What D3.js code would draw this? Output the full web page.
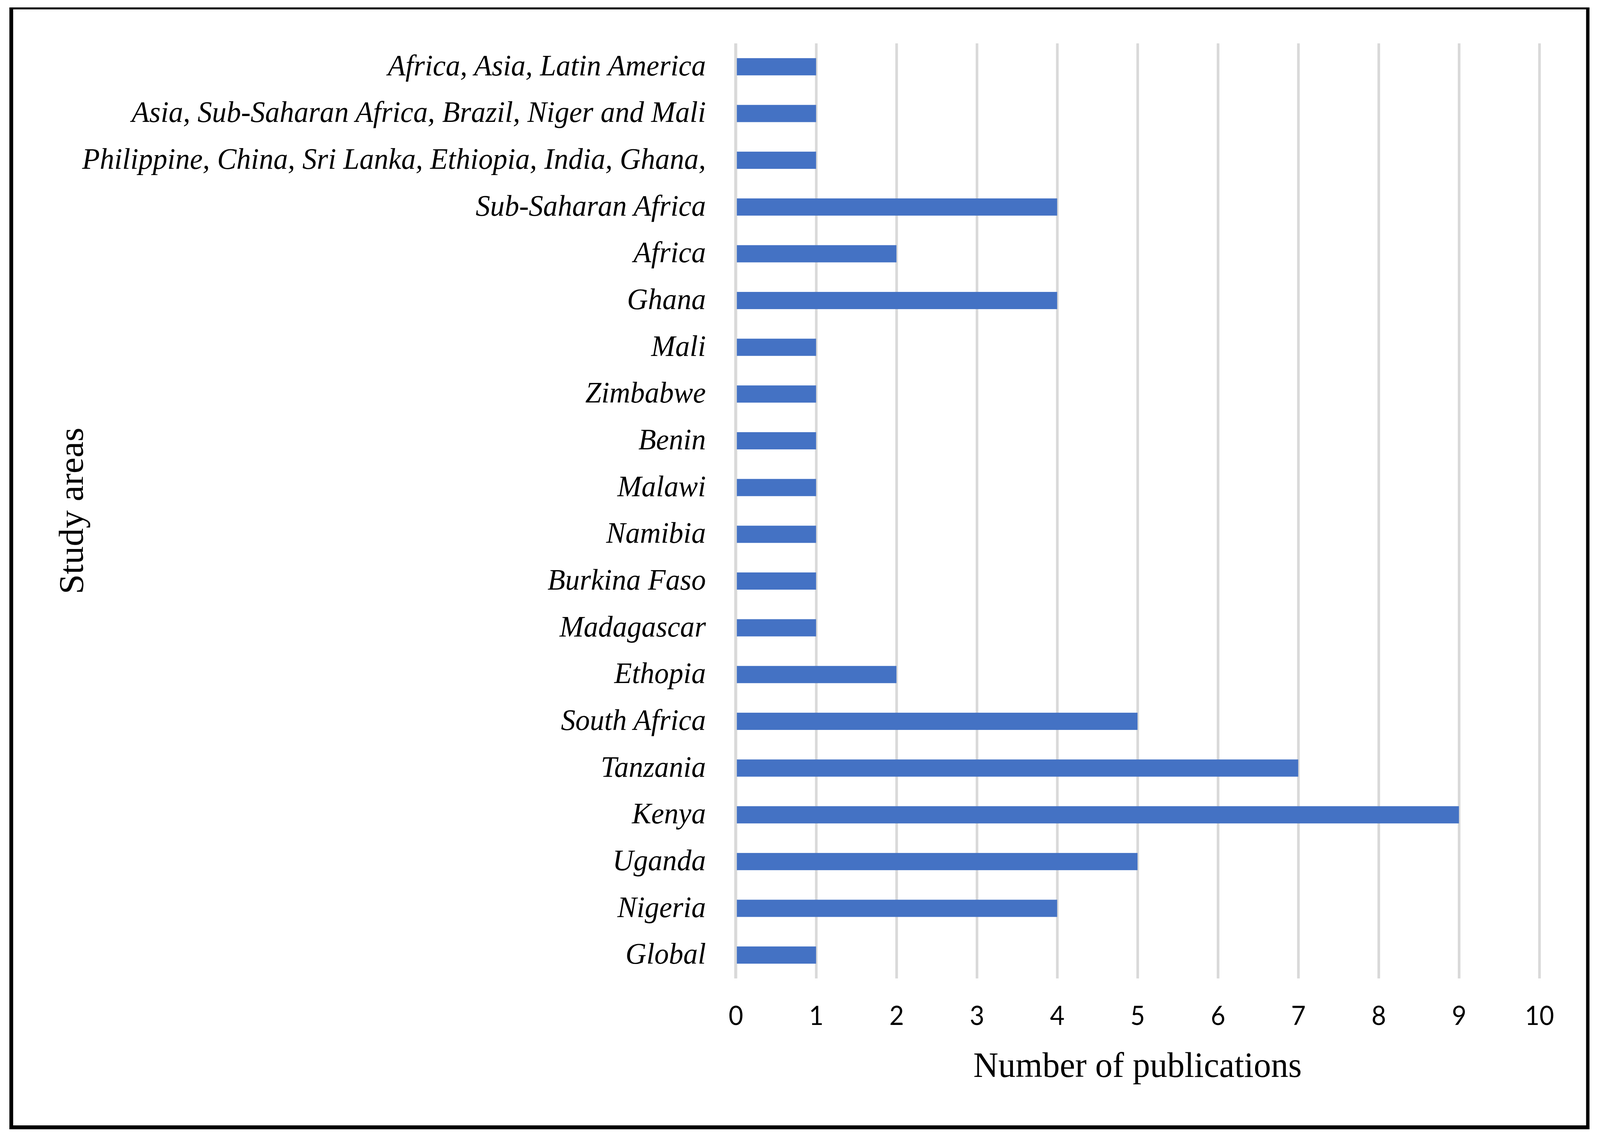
<!DOCTYPE html>
<html>
<head>
<meta charset="utf-8">
<script src="https://cdn.jsdelivr.net/npm/d3@7"></script>
<style>
  html, body { margin: 0; padding: 0; width: 100%; height: 100%; overflow: hidden; background: #fff; }
  #chart { width: 100%; height: 100%; }
  svg { display: block; }
</style>
</head>
<body>
<div id="chart"></div>
<script>
// study areas, top to bottom as in the figure
var areas = [
    "Africa, Asia, Latin America",
    "Asia, Sub-Saharan Africa, Brazil, Niger and Mali",
    "Philippine, China, Sri Lanka, Ethiopia, India, Ghana,",
    "Sub-Saharan Africa",
    "Africa",
    "Ghana",
    "Mali",
    "Zimbabwe",
    "Benin",
    "Malawi",
    "Namibia",
    "Burkina Faso",
    "Madagascar",
    "Ethopia",
    "South Africa",
    "Tanzania",
    "Kenya",
    "Uganda",
    "Nigeria",
    "Global"
];
var publications = [1, 1, 1, 4, 2, 4, 1, 1, 1, 1, 1, 1, 1, 2, 5, 7, 9, 5, 4, 1];
var xTicks = [0, 1, 2, 3, 4, 5, 6, 7, 8, 9, 10];

var xTitle = "Number of publications";
var yTitle = "Study areas";

var W = 4257, H = 2920;
var plot = { left: 1957.5, right: 4095.5, top: 111, bottom: 2504 };

// the figure is laid out on a 4257x2920 canvas and stretched to the window
var svg = d3.select("#chart").append("svg")
    .attr("width", "100%")
    .attr("height", "100%")
    .attr("viewBox", "0 0 " + W + " " + H)
    .attr("preserveAspectRatio", "none");

svg.append("rect").attr("width", W).attr("height", H).attr("fill", "#fff");

var data = areas.map(function(a, i) { return { area: a, value: publications[i] }; });

var x = d3.scaleLinear()
    .domain([0, 10])
    .range([plot.left, plot.right]);

var y = d3.scaleBand()
    .domain(areas)
    .range([plot.top, plot.bottom])
    .paddingInner(0.632)
    .paddingOuter(0.316);

// vertical gridlines
var grid = svg.append("g")
    .attr("transform", "translate(0," + plot.bottom + ")")
    .call(d3.axisBottom(x).tickValues(xTicks).tickSize(-(plot.bottom - plot.top)).tickFormat(""));
grid.select(".domain").remove();
grid.selectAll("line").attr("stroke", "#d9d9d9").attr("stroke-width", 7);

// bars
svg.append("g").selectAll("rect")
    .data(data)
    .enter().append("rect")
        .attr("x", x(0))
        .attr("y", function(d) { return y(d.area); })
        .attr("width", function(d) { return x(d.value) - x(0); })
        .attr("height", y.bandwidth())
        .attr("fill", "#4472c4");

// zero line sits over the bars
svg.append("line")
    .attr("x1", x(0) - 0.5).attr("x2", x(0) - 0.5)
    .attr("y1", plot.top).attr("y2", plot.bottom)
    .attr("stroke", "#d9d9d9").attr("stroke-width", 7);

// category labels
var yAxis = svg.append("g")
    .attr("transform", "translate(" + plot.left + ",0)")
    .call(d3.axisLeft(y).tickSize(0).tickPadding(79.5));
yAxis.select(".domain").remove();
yAxis.attr("font-family", "'Liberation Serif', serif")
    .attr("font-size", 77);
yAxis.selectAll("text")
    .attr("font-style", "italic")
    .attr("fill", "#000")
    .attr("dy", "22px");

// x tick labels
var xAxis = svg.append("g")
    .attr("transform", "translate(0," + plot.bottom + ")")
    .call(d3.axisBottom(x).tickValues(xTicks).tickSize(0).tickFormat(d3.format("d")));
xAxis.select(".domain").remove();
xAxis.attr("font-family", "Lato, sans-serif")
    .attr("font-size", 67);
xAxis.selectAll("text")
    .attr("y", 119)
    .attr("dy", 0)
    .attr("fill", "#000");

// axis titles
svg.append("text")
    .attr("x", (plot.left + plot.right) / 2)
    .attr("y", 2756)
    .attr("text-anchor", "middle")
    .attr("font-family", "'Liberation Serif', serif")
    .attr("font-size", 92)
    .text(xTitle);

svg.append("text")
    .attr("transform", "translate(220," + ((plot.top + plot.bottom) / 2) + ") rotate(-90)")
    .attr("text-anchor", "middle")
    .attr("font-family", "'Liberation Serif', serif")
    .attr("font-size", 92)
    .text(yTitle);

// frame
var frame = svg.append("g").attr("stroke", "#000");
frame.append("line").attr("x1", 25).attr("x2", 4229).attr("y1", 21.5).attr("y2", 21.5).attr("stroke-width", 5);
frame.append("line").attr("x1", 25).attr("x2", 4229).attr("y1", 2885).attr("y2", 2885).attr("stroke-width", 10);
frame.append("line").attr("x1", 30).attr("x2", 30).attr("y1", 19).attr("y2", 2890).attr("stroke-width", 10);
frame.append("line").attr("x1", 4224.5).attr("x2", 4224.5).attr("y1", 19).attr("y2", 2890).attr("stroke-width", 9);
</script>
</body>
</html>
